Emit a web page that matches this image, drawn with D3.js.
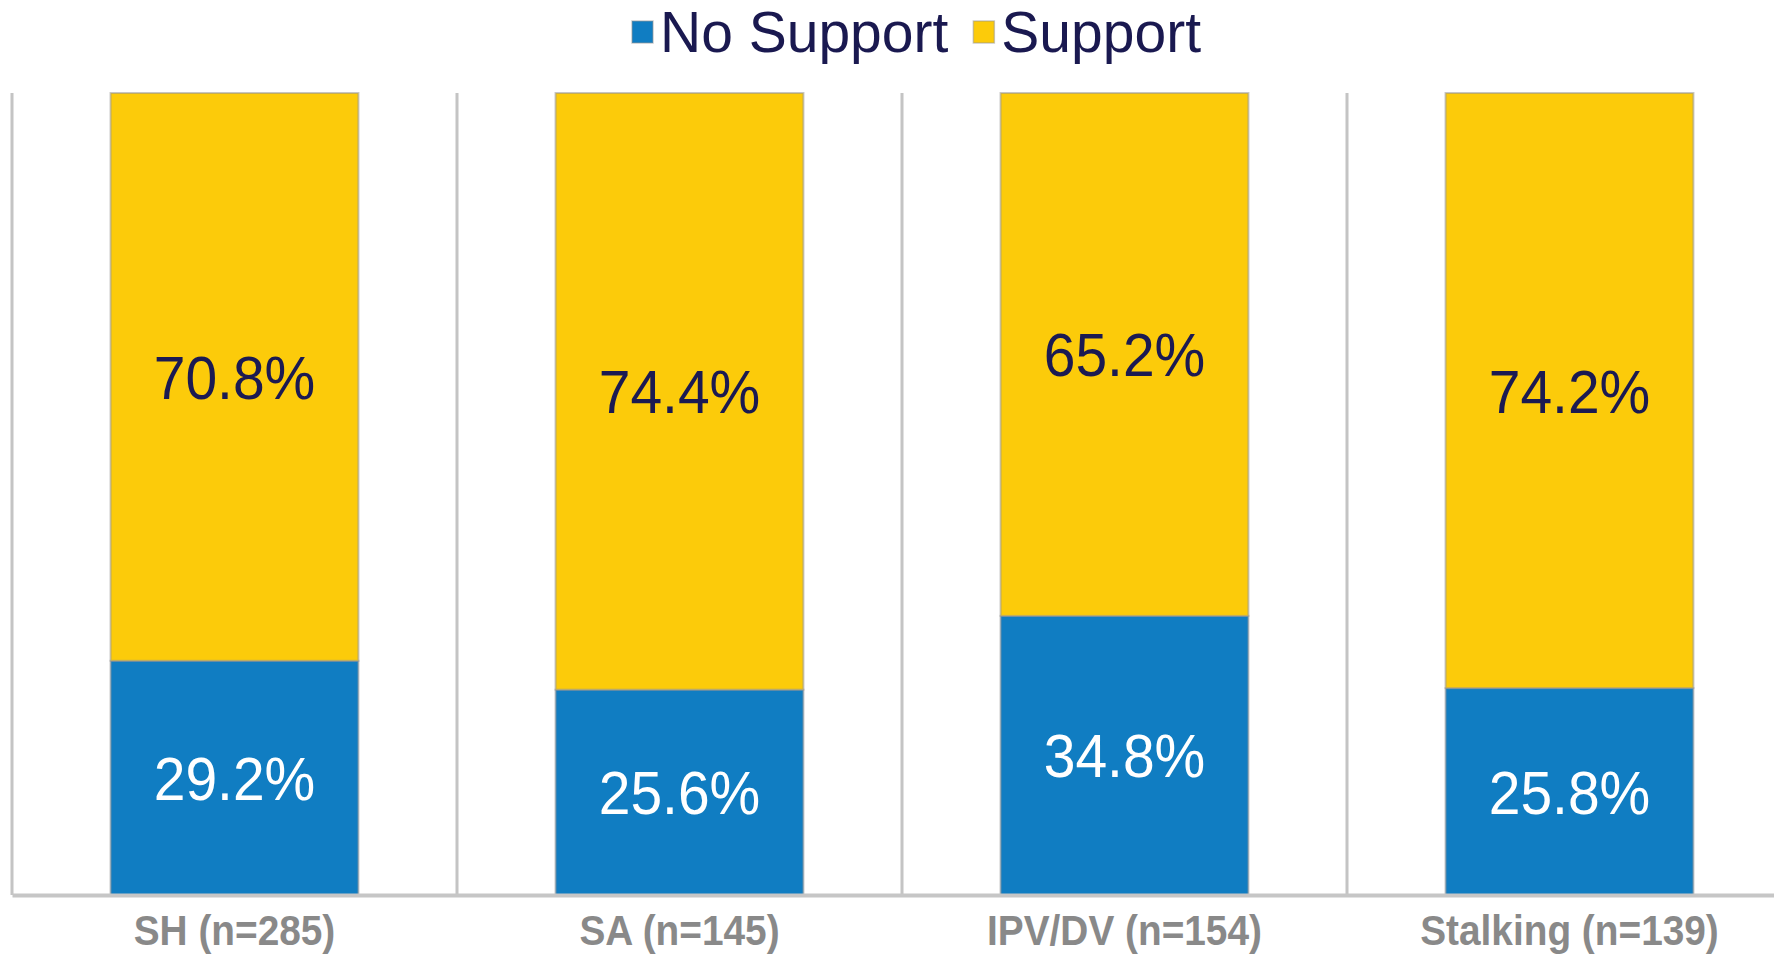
<!DOCTYPE html>
<html>
<head>
<meta charset="utf-8">
<script src="https://cdn.jsdelivr.net/npm/d3@7"></script>
<style>
  html, body { margin: 0; padding: 0; background: #ffffff; }
  svg { display: block; }
</style>
</head>
<body>
<svg id="chart" width="1774" height="955"></svg>
<script>
const categories = ["SH (n=285)", "SA (n=145)", "IPV/DV (n=154)", "Stalking (n=139)"];
const noSupport = [29.2, 25.6, 34.8, 25.8];
const support = [70.8, 74.4, 65.2, 74.2];
const seriesNames = ["No Support", "Support"];
const seriesColors = ["#107dc2", "#fccb0a"];
const labelColors = ["#ffffff", "#1b1a52"];

const W = 1774, H = 955;
const svg = d3.select("#chart");
const font = "'Liberation Sans', Arial, sans-serif";

const x = d3.scaleBand().domain(categories).range([12, 1792]).paddingInner(0).paddingOuter(0);
const y = d3.scaleLinear().domain([0, 100]).range([895, 93]);
const barW = x.bandwidth() * 0.557;
const barX = c => x(c) + (x.bandwidth() - barW) / 2;

const rows = categories.map((c, i) => ({ cat: c, "No Support": noSupport[i], "Support": support[i] }));
const stacked = d3.stack().keys(seriesNames)(rows);

// separators (category gridlines)
svg.append("g").selectAll("line").data(categories).join("line")
  .attr("x1", d => x(d)).attr("x2", d => x(d))
  .attr("y1", y(100)).attr("y2", y(0))
  .attr("stroke", "#c4c4c4").attr("stroke-width", 3);

// bars
const layers = svg.append("g").selectAll("g").data(stacked).join("g")
  .attr("fill", (d, i) => seriesColors[i]);
layers.selectAll("rect").data(d => d.map(p => Object.assign(p, { key: d.key }))).join("rect")
  .attr("x", d => barX(d.data.cat))
  .attr("width", barW)
  .attr("y", d => y(d[1]))
  .attr("height", d => y(d[0]) - y(d[1]))
  .attr("stroke", "rgba(150,150,150,0.55)")
  .attr("stroke-width", 2);

// value labels
stacked.forEach((layer, li) => {
  svg.append("g").selectAll("text").data(layer).join("text")
    .attr("transform", d => `translate(${x(d.data.cat) + x.bandwidth() / 2},${(y(d[0]) + y(d[1])) / 2 + 22}) scale(1,1.08)`)
    .attr("text-anchor", "middle")
    .attr("font-family", font)
    .attr("font-size", 57)
    .attr("fill", labelColors[li])
    .text(d => d3.format(".1f")(d[1] - d[0]) + "%");
});

// x axis
const xAxis = svg.append("g").attr("transform", `translate(0,${y(0)})`)
  .call(d3.axisBottom(x).tickSize(0).tickPadding(0));
xAxis.select(".domain").attr("stroke", "#c6c6c6").attr("stroke-width", 4);
xAxis.selectAll(".tick text")
  .attr("font-family", font)
  .attr("font-size", 40)
  .attr("font-weight", "bold")
  .attr("fill", "#898989")
  .attr("dy", null)
  .attr("y", 0)
  .attr("transform", "translate(0,50) scale(0.97,1.06)");

// legend
const legend = svg.append("g");
let lx = 632;
seriesNames.forEach((name, i) => {
  legend.append("rect").attr("x", lx).attr("y", 21).attr("width", 21).attr("height", 22)
    .attr("fill", seriesColors[i]).attr("stroke", "rgba(150,150,150,0.5)").attr("stroke-width", 1.5);
  const t = legend.append("text").attr("x", lx + 28).attr("y", 52)
    .attr("font-family", font).attr("font-size", 57).attr("fill", "#1a1950").text(name);
  lx += 28 + t.node().getComputedTextLength() + 25;
});
</script>
</body>
</html>
